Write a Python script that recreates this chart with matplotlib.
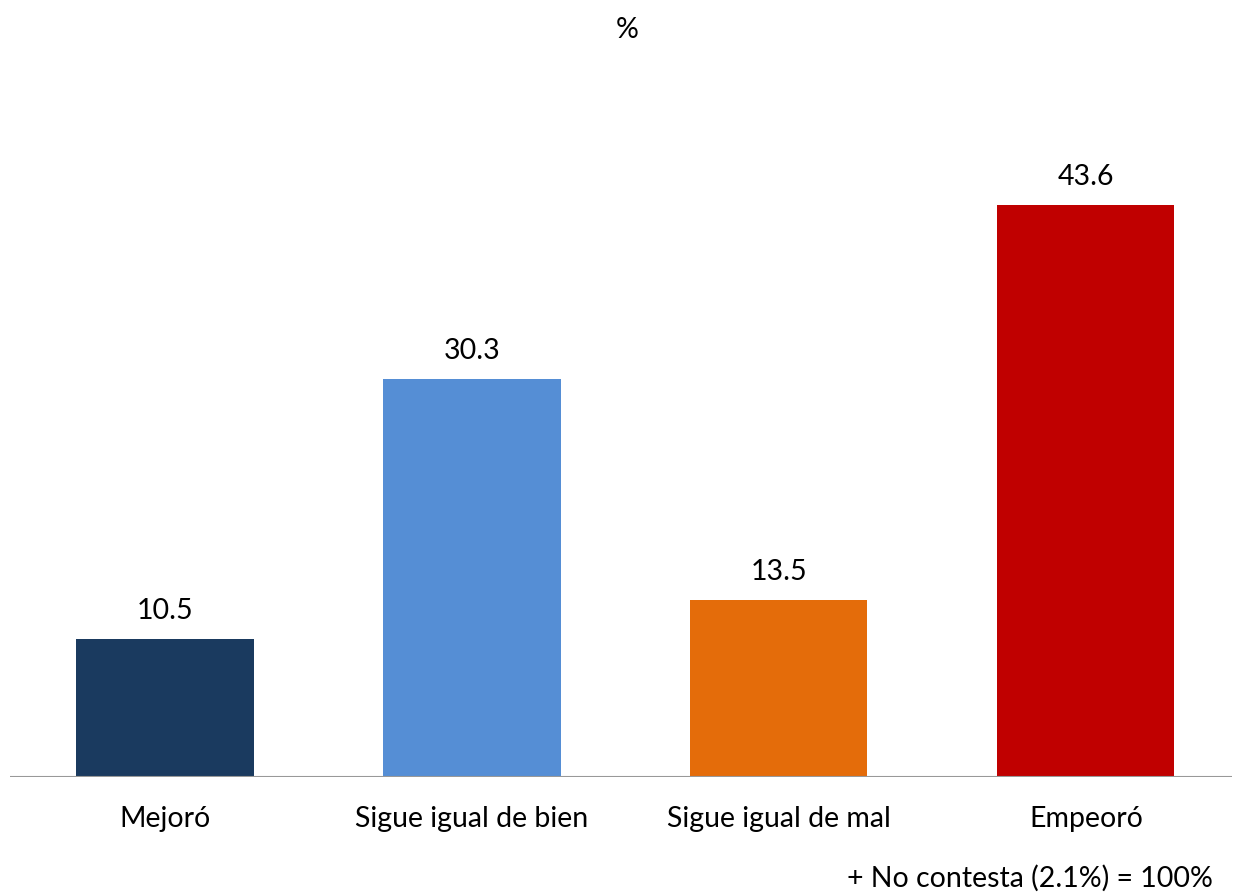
import matplotlib
matplotlib.use("Agg")
import matplotlib.pyplot as plt

categories = ["Mejoró", "Sigue igual de bien", "Sigue igual de mal", "Empeoró"]
values = [10.5, 30.3, 13.5, 43.6]
colors = ["#1a3a5f", "#558ed5", "#e46c0a", "#c00000"]
footnote = "+ No contesta (2.1%) = 100%"

plt.rcParams["font.family"] = ["Lato", "DejaVu Sans"]
FS = 20.5

fig = plt.figure(figsize=(12.34, 8.96), dpi=100)
ax = fig.add_axes([10 / 1234, 119 / 896, 1222 / 1234, 656 / 896])

x = range(len(categories))
bars = ax.bar(x, values, width=0.577, color=colors, zorder=2)
for bar, v in zip(bars, values):
    ax.annotate(f"{v:.1f}", (bar.get_x() + bar.get_width() / 2, v),
                xytext=(0, 11), textcoords="offset points",
                ha="center", va="bottom", fontsize=FS)

ax.set_xlim(-0.505, 3.476)
ax.set_ylim(0, 50)
ax.axhline(0, color="#999999", lw=1.5, zorder=3)
for side in ax.spines.values():
    side.set_visible(False)
ax.set_yticks([])
ax.set_xticks(list(x))
ax.set_xticklabels(categories, fontsize=FS)
ax.tick_params(axis="x", length=0, pad=21)

fig.text(627 / 1234, 1 - 30 / 896, "%", ha="center", va="center", fontsize=FS)
fig.text(1213 / 1234, 1 - 878 / 896, footnote, ha="right", va="center", fontsize=FS)

fig.savefig("out.png", dpi=100)
